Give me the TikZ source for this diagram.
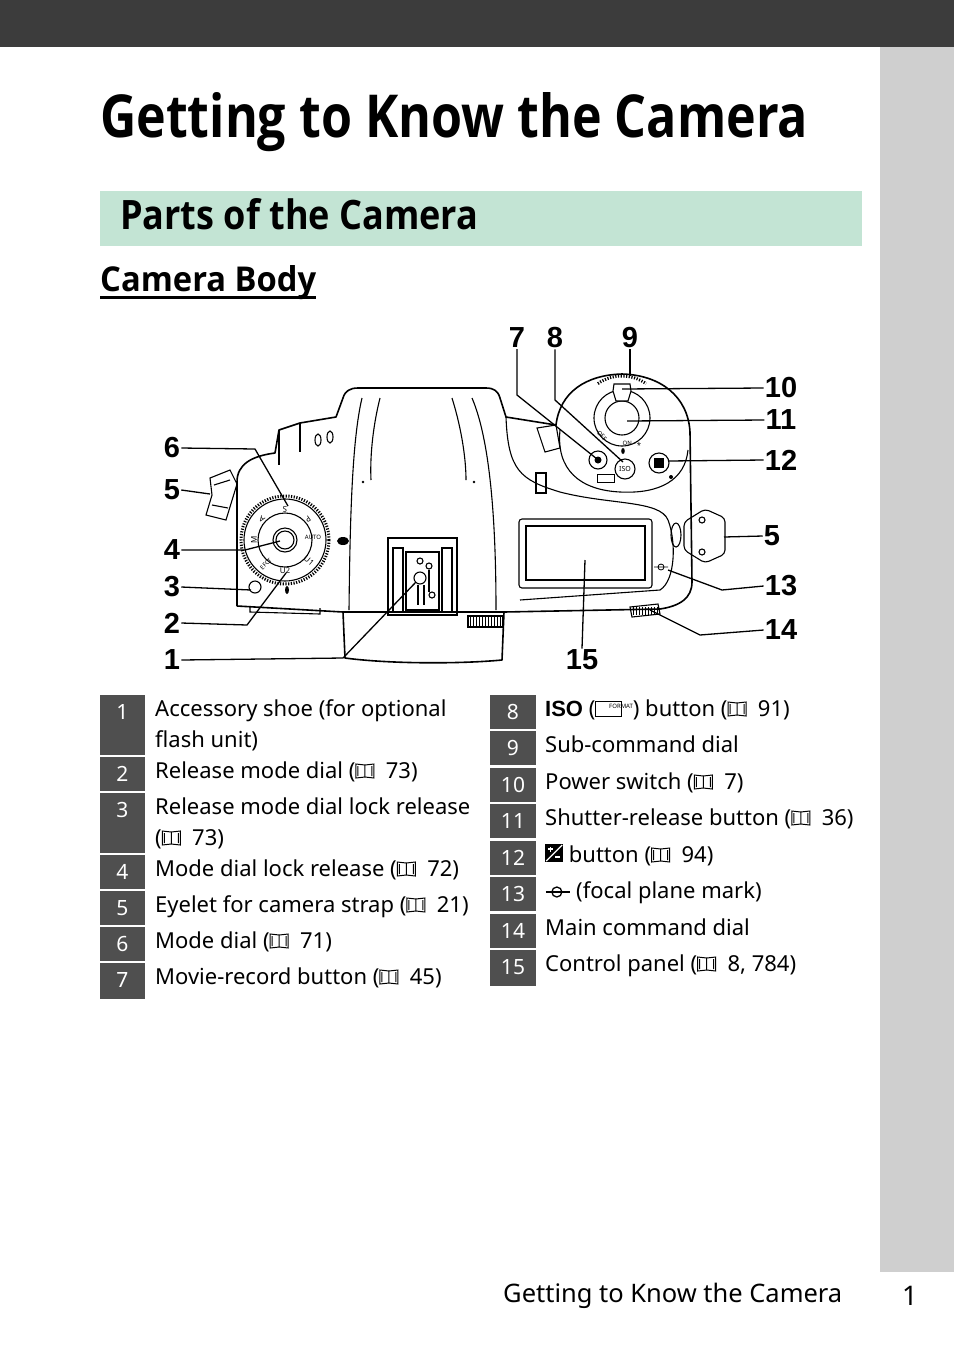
\documentclass[tikz,border=0pt]{standalone}
\usepackage{fontspec}
\usepackage{graphicx}
\setmainfont{Noto Sans}
\newfontfamily\headfont{Open Sans}
\newfontfamily\numfont{Liberation Sans}
\definecolor{barcol}{HTML}{3C3C3C}
\definecolor{sidecol}{HTML}{CFCFCF}
\definecolor{headcol}{HTML}{C3E4D4}
\definecolor{boxcol}{HTML}{4F4F4F}
\newcommand{\bookicon}{\tikz[baseline=0pt,x=1pt,y=1pt,line width=1pt]{\draw (0,0) -- (0,14) -- (9,13) -- (18,14) -- (18,0) -- (9,1) -- cycle (9,1) -- (9,13) (2,2) -- (2,12) (16,2) -- (16,12);}}
\newcommand{\fmticon}{\tikz[baseline=0pt,x=1pt,y=1pt,line width=0.8pt]{\draw (0,0) rectangle (26,15); \node[inner sep=0pt] at (13,7.5) {\fontsize{6}{6}\selectfont FORMAT};}}
\newcommand{\evicon}{\tikz[baseline=0pt,x=1pt,y=1pt]{\fill (0,0) rectangle (18,18); \draw[white,line width=1.2pt] (1,1) -- (17,17); \draw[white,line width=1.2pt] (3,13) -- (8,13) (5.5,10.5) -- (5.5,15.5) (10,5) -- (15,5);}}
\newcommand{\fpmark}{\tikz[baseline=0pt,x=1pt,y=1pt,line width=1.3pt]{\draw (11,6) circle (5); \draw (0,6) -- (24,6);}}
\tikzset{
  txt/.style={anchor=base west,inner sep=0pt,font=\fontsize{22}{22}\selectfont},
  numbox/.style={fill=boxcol,draw=none},
  boxnum/.style={text=white,font=\fontsize{21}{21}\selectfont,inner sep=0pt},
  callout/.style={font=\numfont\bfseries\fontsize{29}{29}\selectfont,inner sep=1pt},
  leader/.style={line width=1.3pt},
  body/.style={line width=1.6pt,line join=round},
  part/.style={line width=1.1pt}
}
\begin{document}
\begin{tikzpicture}[x=1pt,y=-1pt]
\useasboundingbox (0,0) rectangle (954,1345);
% page frame
\fill[barcol] (0,0) rectangle (954,47);
\fill[sidecol] (880,47) rectangle (954,1272);
\node[anchor=base west,inner sep=0pt] (title) at (100,137) {\resizebox{708pt}{45pt}{\headfont\bfseries Getting to Know the Camera}};
\fill[headcol] (100,191) rectangle (862,246);
\node[anchor=base west,inner sep=0pt] (parts) at (120,229) {\resizebox{358pt}{31pt}{\headfont\bfseries Parts of the Camera}};
\node[anchor=base west,inner sep=0pt] (bodyhd) at (100,291) {\resizebox{216pt}{26pt}{\headfont\bfseries Camera Body}};
\draw[line width=3pt] (100,297) -- (316,297);

% camera body
\draw[body] (237,606) -- (237,482) .. controls (237,464) and (252,456) .. (275,453) -- (279,430) -- (300,423) -- (336,417)
  -- (343,398) .. controls (345,391) and (350,388) .. (358,388) -- (486,388) .. controls (494,388) and (498,391) .. (500,398)
  -- (506,417) -- (556,425) .. controls (560,392) and (586,375) .. (622,374) .. controls (660,375) and (688,396) .. (690,432)
  -- (692,582) .. controls (692,598) and (680,606) .. (660,609) -- (504,612) -- (502,660) .. controls (460,664) and (390,664) .. (345,658)
  -- (343,612) -- (237,606);
\draw[part] (343,612) -- (504,612);
\draw[part] (362,398) .. controls (352,440) and (350,520) .. (349,610);
\draw[part] (472,398) .. controls (490,440) and (496,520) .. (496,610);
\draw[part] (380,398) .. controls (372,430) and (370,460) .. (371,480);
\draw[part] (452,398) .. controls (462,430) and (466,460) .. (466,480);
\fill (363,482) circle (1.3) (474,482) circle (1.3);
\draw[part] (279,430) -- (279,465) (300,423) -- (300,452);
\draw[part] (318,440) ellipse (3 and 6) (330,437) ellipse (3 and 6);
\draw[part] (537,428) -- (556,425) -- (560,448) -- (545,452) -- cycle;
\draw[part] (536,473) rectangle (546,493);
\draw[part] (506,417) .. controls (508,470) and (520,480) .. (560,492) .. controls (610,505) and (660,500) .. (668,520)
  .. controls (676,540) and (676,580) .. (660,590) -- (520,600);
\draw[part] (560,430) .. controls (556,470) and (580,490) .. (620,492) .. controls (660,494) and (685,480) .. (688,450);
\fill (343,541) ellipse (6 and 4);
\draw[part] (250,606) -- (250,612) -- (320,614) -- (320,608);

% left strap eyelet
\draw[part] (210,478) -- (230,470) -- (237,484) -- (226,520) -- (206,515) -- (212,495) -- cycle;
\draw[part] (214,485) -- (230,480) (212,505) -- (228,508);

% mode dial
\draw[line width=3pt,dash pattern=on 1.2pt off 1.5pt] (285,540) circle (44);
\draw[part,fill=white] (285,540) circle (41);
\draw[part] (285,540) circle (27);
\draw[part] (285,540) circle (12);
\draw[part] (285,540) circle (9);
\foreach \lbl/\px/\py/\rot in {S/285/509/180,P/308/519/215,A/262/519/145,M/254/540/90,U2/285/571/0,U1/309/561/-40}
  \node[inner sep=0pt,font=\fontsize{8}{8}\selectfont,rotate=\rot] at (\px,\py) {\lbl};
\node[inner sep=0pt,font=\fontsize{6}{6}\selectfont,rotate=45] at (266,564) {EFCT};
\node[inner sep=0pt,font=\fontsize{6}{6}\selectfont] at (313,537) {AUTO};
\draw[part] (255,587) circle (6);
\fill (287,590) ellipse (2 and 4);

% accessory shoe
\draw[part] (388,538) rectangle (457,615);
\draw[part] (393,548) rectangle (403,612) (442,548) rectangle (452,612);
\draw[part] (406,552) rectangle (439,610);
\draw[part] (420,578) circle (6) (420,561) circle (3) (429,566) circle (3) (432,595) circle (3);
\draw[part] (418,585) -- (418,605) (424,585) -- (424,605) (429,570) -- (429,592);

% control panel
\draw[part,rounded corners=3pt] (519,519) rectangle (652,588);
\draw[part] (526,526) rectangle (645,580);

% front and main command dials
\draw[part] (468,616) rectangle (503,627);
\foreach \k in {0,...,10} \draw[line width=0.8pt] (470+3*\k,617) -- (470+3*\k,626);
\draw[part] (630,607) -- (658,604) -- (660,614) -- (632,617) -- cycle;
\foreach \k in {0,...,8} \draw[line width=0.8pt] (633+3*\k,607) -- (633+3*\k,615);

% power switch, shutter and sub-command dial
\draw[line width=3pt,dash pattern=on 1.2pt off 1.5pt] (622,418) ++(235:42) arc[start angle=235,end angle=305,radius=42];
\draw[part] (622,418) circle (28);
\draw[part] (622,418) circle (17);
\draw[part,fill=white] (613,391) -- (614,384) -- (630,384) -- (631,391) -- (628,401) -- (616,401) -- cycle;
\node[inner sep=0pt,font=\fontsize{6}{6}\selectfont,rotate=-45] at (602,436) {OFF};
\node[inner sep=0pt,font=\fontsize{6}{6}\selectfont] at (632,443) {ON\,--\,\textasteriskcentered};
\fill (623,451) ellipse (1.8 and 3);
\draw[part] (598,460) circle (9);
\fill (598,460) circle (3.5);
\draw[part] (625,469) circle (10);
\node[inner sep=0pt,font=\fontsize{7}{7}\selectfont] at (625,469) {ISO};
\draw[line width=0.7pt] (597,474) rectangle (614,482);
\draw[part] (659,463) circle (10);
\fill (654,458) rectangle (664,468);
\fill (671,477) circle (2);

% right strap eyelet
\draw[part,rounded corners=4pt] (684,522) -- (705,509) -- (725,518) -- (725,554) -- (705,563) -- (684,550) -- cycle;
\draw[part] (676,535) ellipse (5 and 12);
\draw[part] (702,520) circle (3) (702,552) circle (3);

% focal plane mark
\draw[line width=0.8pt] (661,567) circle (3) (654,567) -- (668,567);

% callouts
\node[callout] (n1) at (172,660) {1};
\node[callout] (n2) at (172,623) {2};
\node[callout] (n3) at (172,587) {3};
\node[callout] (n4) at (172,550) {4};
\node[callout] (n5a) at (172,490) {5};
\node[callout] (n6) at (172,448) {6};
\node[callout] (n7) at (517,338) {7};
\node[callout] (n8) at (555,338) {8};
\node[callout] (n9) at (630,338) {9};
\node[callout] (n10) at (781,388) {10};
\node[callout] (n11) at (781,420) {11};
\node[callout] (n12) at (781,460) {12};
\node[callout] (n5b) at (772,536) {5};
\node[callout] (n13) at (781,586) {13};
\node[callout] (n14) at (781,630) {14};
\node[callout] (n15) at (582,660) {15};
\coordinate (p1) at (416,582);
\coordinate (p2) at (286,573);
\coordinate (p3) at (251,590);
\coordinate (p4) at (280,541);
\coordinate (p5a) at (210,494);
\coordinate (p6) at (288,506);
\coordinate (p7) at (597,459);
\coordinate (p8) at (623,462);
\coordinate (p9) at (630,376);
\coordinate (p10) at (622,389);
\coordinate (p11) at (627,421);
\coordinate (p12) at (668,461);
\coordinate (p5b) at (724,537);
\coordinate (p13) at (668,570);
\coordinate (p14) at (650,610);
\coordinate (p15) at (585,560);
\draw[leader] (n1.east) -- (343,658) -- (p1);
\draw[leader] (n2.east) -- (247,625) -- (p2);
\draw[leader] (n3.east) -- (p3);
\draw[leader] (n4.east) -- (245,550) -- (p4);
\draw[leader] (n5a.east) -- (p5a);
\draw[leader] (n6.east) -- (255,449) -- (p6);
\draw[leader] (n7.south) -- (517,395) -- (p7);
\draw[leader] (n8.south) -- (555,400) -- (p8);
\draw[leader] (n9.south) -- (p9);
\draw[leader] (n10.west) -- (p10);
\draw[leader] (n11.west) -- (p11);
\draw[leader] (n12.west) -- (p12);
\draw[leader] (n5b.west) -- (p5b);
\draw[leader] (n13.west) -- (722,590) -- (p13);
\draw[leader] (n14.west) -- (700,635) -- (p14);
\draw[leader] (n15.north) -- (p15);

% parts list
\foreach \n/\top/\h in {1/695/60,2/757/34,3/793/60,4/855/34,5/891/34,6/927/34,7/963/36}{
  \fill[numbox] (100,\top) rectangle (145,\top+\h);
  \node[boxnum] (b\n) at (122.5,\top+17) {\n};
}
\foreach \n/\top/\h in {8/695/34,9/731/34,10/768/34,11/804/34,12/841/34,13/877/34,14/914/34,15/950/36}{
  \fill[numbox] (490,\top) rectangle (536,\top+\h);
  \node[boxnum] (b\n) at (513,\top+17) {\n};
}
\node[txt] (t1) at (155,716) {Accessory shoe (for optional};
\node[txt] (t1b) at (155,747) {flash unit)};
\node[txt] (t2) at (155,778) {Release mode dial (\bookicon\ \ 73)};
\node[txt] (t3) at (155,814) {Release mode dial lock release};
\node[txt] (t3b) at (155,845) {(\bookicon\ \ 73)};
\node[txt] (t4) at (155,876) {Mode dial lock release (\bookicon\ \ 72)};
\node[txt] (t5) at (155,912) {Eyelet for camera strap (\bookicon\ \ 21)};
\node[txt] (t6) at (155,948) {Mode dial (\bookicon\ \ 71)};
\node[txt] (t7) at (155,984) {Movie-record button (\bookicon\ \ 45)};
\node[txt] (t8) at (545,716) {{\numfont\bfseries ISO} (\fmticon) button (\bookicon\ \ 91)};
\node[txt] (t9) at (545,752) {Sub-command dial};
\node[txt] (t10) at (545,789) {Power switch (\bookicon\ \ 7)};
\node[txt] (t11) at (545,825) {Shutter-release button (\bookicon\ \ 36)};
\node[txt] (t12) at (545,862) {\evicon\ button (\bookicon\ \ 94)};
\node[txt] (t13) at (545,898) {\fpmark\ (focal plane mark)};
\node[txt] (t14) at (545,935) {Main command dial};
\node[txt] (t15) at (545,971) {Control panel (\bookicon\ \ 8, 784)};

% footer
\node[anchor=base west,inner sep=0pt] (foot) at (503,1302) {\resizebox{339pt}{!}{Getting to Know the Camera}};
\node[anchor=base west,inner sep=0pt,font=\fontsize{27}{27}\selectfont] (pg) at (902,1305) {1};
\end{tikzpicture}
\end{document}
